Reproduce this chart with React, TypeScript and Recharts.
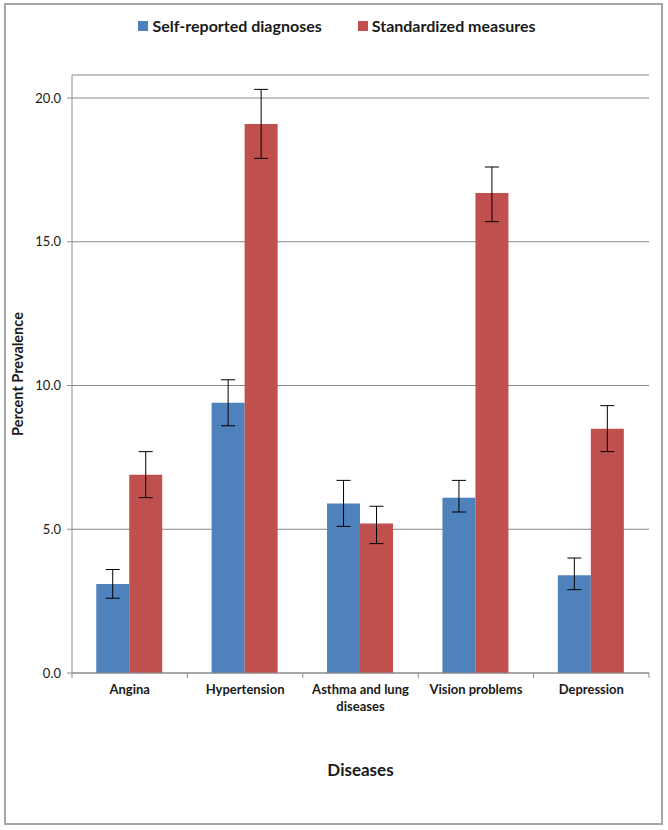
import React from 'react';
import { BarChart, Bar, XAxis, YAxis, CartesianGrid, ErrorBar, Label, Text } from 'recharts';

const categories = ['Angina', 'Hypertension', 'Asthma and lung diseases', 'Vision problems', 'Depression'];
const selfReported = [3.1, 9.4, 5.9, 6.1, 3.4];
const selfLow = [2.6, 8.6, 5.1, 5.6, 2.9];
const selfHigh = [3.6, 10.2, 6.7, 6.7, 4.0];
const standardized = [6.9, 19.1, 5.2, 16.7, 8.5];
const stdLow = [6.1, 17.9, 4.5, 15.7, 7.7];
const stdHigh = [7.7, 20.3, 5.8, 17.6, 9.3];
const yTicks = [0, 5, 10, 15, 20];

const BLUE = '#4F81BD';
const RED = '#C0504D';
const FONT = 'Lato, "Open Sans", sans-serif';

const data = categories.map((name, i) => ({
    name,
    self: selfReported[i],
    selfErr: [selfReported[i] - selfLow[i], selfHigh[i] - selfReported[i]],
    std: standardized[i],
    stdErr: [standardized[i] - stdLow[i], stdHigh[i] - standardized[i]],
}));

// category label plus the tick marks that sit between the bands
const CategoryTick = (props: any) => {
    const { x, y, payload, index, visibleTicksCount, width } = props;
    const band = width / visibleTicksCount;
    const left = x - band / 2;
    const right = x + band / 2;
    return (
        <g>
            <line x1={left} y1={y - 8} x2={left} y2={y - 3} stroke="#8c8c8c" />
            {index === visibleTicksCount - 1 && (
                <line x1={right} y1={y - 8} x2={right} y2={y - 3} stroke="#8c8c8c" />
            )}
            <Text
                x={x}
                y={y + 4}
                width={band - 6}
                textAnchor="middle"
                verticalAnchor="start"
                lineHeight={17}
                fontSize={13}
                fontWeight={700}
                fill="#1a1a1a"
                fontFamily={FONT}
            >
                {payload.value}
            </Text>
        </g>
    );
};

const LegendItem: React.FC<{ color: string; label: string }> = ({ color, label }) => (
    <div style={{ display: 'flex', alignItems: 'center', gap: 4 }}>
        <div style={{ width: 10, height: 10, background: color }} />
        <span>{label}</span>
    </div>
);

export default function App() {
    return (
        <div style={{ position: 'absolute', left: 0, top: 0, width: 668, height: 830, background: '#fff', fontFamily: FONT }}>
            <div
                style={{
                    position: 'absolute', top: 16, left: 0, width: 674, display: 'flex', justifyContent: 'center',
                    gap: 36, fontSize: 16, fontWeight: 700, color: '#1a1a1a',
                }}
            >
                <LegendItem color={BLUE} label="Self-reported diagnoses" />
                <LegendItem color={RED} label="Standardized measures" />
            </div>
            <div style={{ position: 'absolute', left: 0, top: 0 }}>
                <BarChart
                    width={668}
                    height={830}
                    data={data}
                    margin={{ top: 75, right: 19, bottom: 97, left: 12 }}
                    barCategoryGap="21%"
                    barGap={0}
                >
                    <CartesianGrid vertical={false} stroke="#868686" strokeWidth={1} />
                    <XAxis
                        dataKey="name"
                        height={60}
                        stroke="#8c8c8c"
                        tickLine={false}
                        interval={0}
                        tick={<CategoryTick />}
                    >
                        <Label
                            value="Diseases"
                            position="bottom"
                            offset={31}
                            style={{ fontSize: 17, fontWeight: 700, fill: '#1a1a1a', fontFamily: FONT }}
                        />
                    </XAxis>
                    <YAxis
                        width={60}
                        domain={[0, 20.8]}
                        ticks={yTicks}
                        allowDataOverflow
                        stroke="#8c8c8c"
                        tickSize={5}
                        tickMargin={6}
                        tickFormatter={(v: number) => v.toFixed(1)}
                        tick={{ fontSize: 13, fill: '#1a1a1a', fontFamily: FONT }}
                    >
                        <Label
                            value="Percent  Prevalence"
                            angle={-90}
                            position="insideLeft"
                            offset={6}
                            style={{ fontSize: 14.5, fontWeight: 700, fill: '#1a1a1a', fontFamily: FONT, textAnchor: 'middle', whiteSpace: 'pre' }}
                        />
                    </YAxis>
                    <Bar dataKey="self" fill={BLUE} isAnimationActive={false}>
                        <ErrorBar dataKey="selfErr" width={7} stroke="#000" strokeWidth={1} direction="y" />
                    </Bar>
                    <Bar dataKey="std" fill={RED} isAnimationActive={false}>
                        <ErrorBar dataKey="stdErr" width={7} stroke="#000" strokeWidth={1} direction="y" />
                    </Bar>
                </BarChart>
            </div>
            {/* outer chart frame */}
            <svg width={668} height={830} style={{ position: 'absolute', left: 0, top: 0, pointerEvents: 'none' }}>
                <rect x={5} y={4} width={657} height={820} fill="none" stroke="#a6a6a6" strokeWidth={2} />
            </svg>
        </div>
    );
}
